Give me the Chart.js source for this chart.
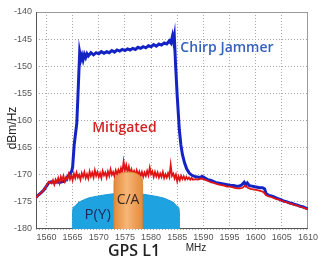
<!DOCTYPE html>
<html>
<head>
<meta charset="utf-8">
<script src="https://cdn.jsdelivr.net/npm/chart.js@4/dist/chart.umd.min.js"></script>
<style>
html,body{margin:0;padding:0;background:#fff;}
#wrap{width:321px;height:260px;position:relative;}
</style>
</head>
<body>
<div id="wrap"><canvas id="c"></canvas></div>
<script>
// ---- data ----
const xTicks = [1560,1565,1570,1575,1580,1585,1590,1595,1600,1605,1610];
const yTicks = [-180,-175,-170,-165,-160,-155,-150,-145,-140];

const jammerFreq = [1558,1558.5,1559,1559.5,1560,1560.5,1561,1561.5,1562,1562.5,1563,1563.5,1564,1564.5,1564.8,1565.0,1565.3,1565.8,1566.1,1566.35,1566.6,1566.8,1567.0,1567.25,1567.5,1567.75,1568,
1568.5,1569,1569.5,1570,1570.5,1571,1571.5,1572,1572.5,1573,1573.5,1574,1574.5,1575,1575.5,1576,1576.5,1577,1577.5,1578,1578.5,1579,1579.5,1580,1580.5,1581,1581.5,1582,1582.5,1583,1583.5,1583.8,1584.1,1584.3,1584.45,
1584.7,1585.0,1585.4,1585.7,1586.0,1586.4,1586.8,1587.3,1587.8,1588.3,1588.8,1589.3,1589.8,1590.3,1590.8,1591.3,1591.8,1592.3,1592.8,1593.3,1593.8,1594.3,1594.8,1595.3,1595.8,1596.3,1596.8,1597.3,1597.8,1598.1,1598.4,1598.8,1599.3,1599.8,1600.3,1600.8,1601.3,1601.7,1602.0,1602.5,1603,1603.5,1604,1604.5,1605,1605.5,1606,1606.5,1607,1607.5,1608,1608.5,1609,1609.5,1610];
const jammerLevel = [-174.2,-173.7,-173.3,-172.8,-172.1,-171.4,-171.3,-171.4,-171.3,-171.4,-171.3,-171.2,-170.4,-169.8,-169.4,-168.6,-164.5,-160.5,-153.5,-147.4,-148.7,-148.0,-148.8,-147.8,-148.4,-147.7,-148.1,
-147.5,-147.9,-147.5,-147.7,-147.3,-147.6,-147.3,-147.5,-147.1,-147.4,-147.0,-147.2,-146.9,-147.1,-146.8,-147.0,-146.7,-146.9,-146.5,-146.7,-146.4,-146.6,-146.2,-146.4,-146.0,-146.3,-145.9,-146.1,-145.7,-145.9,-145.3,-145.7,-144.4,-145.5,-144.6,
-150.0,-155.5,-161.7,-164.5,-166.3,-167.8,-168.9,-169.7,-170.1,-170.3,-170.4,-170.5,-170.3,-170.6,-170.9,-171.0,-171.2,-171.4,-171.5,-171.6,-171.7,-171.8,-171.9,-172.0,-172.0,-172.1,-172.1,-171.9,-171.4,-171.9,-171.5,-172.0,-172.1,-172.2,-172.3,-172.4,-172.4,-172.6,-173.5,-173.8,-173.9,-174.1,-174.3,-174.5,-174.7,-174.9,-175.0,-175.2,-175.3,-175.5,-175.6,-175.8,-175.9,-176.1,-176.3];

const mitigatedFreq = [1558,1558.5,1559,1559.5,1560,1560.5,1561,
1561.25,1561.5,1561.75,1562,1562.25,1562.5,1562.75,1563,1563.25,1563.5,1563.75,1564,1564.25,1564.5,1564.75,1565,1565.25,1565.5,1565.75,1566,1566.25,1566.5,1566.75,1567,1567.25,1567.5,1567.75,1568,1568.25,1568.5,1568.75,1569,1569.25,1569.5,1569.75,1570,
1570.25,1570.5,1570.75,1571,1571.25,1571.5,1571.75,1572,1572.25,1572.5,1572.75,1573,1573.25,1573.5,1573.75,1574,1574.25,1574.5,1574.75,1575,1575.25,1575.5,1575.75,1576,1576.25,1576.5,1576.75,1577,1577.25,1577.5,1577.75,1578,1578.25,1578.5,1578.75,1579,1579.25,1579.5,1579.75,1580,
1580.25,1580.5,1580.75,1581,1581.25,1581.5,1581.75,1582,1582.25,1582.5,1582.75,1583,1583.25,1583.5,1583.75,1584,1584.25,1584.5,1584.75,1585,1585.25,1585.5,1585.75,1586,1586.25,1586.5,1586.75,1587,1587.25,1587.5,1587.75,1588,
1588.5,1589,1589.5,1590,1590.5,1591,1591.5,1592,1592.5,1593,1593.5,1594,1594.5,1595,1595.5,1596,1596.5,1597,1597.5,1598,1598.5,1599,1599.5,1600,1600.5,1601,1601.5,1602,1602.5,1603,1603.5,1604,1604.5,1605,1605.5,1606,1606.5,1607,1607.5,1608,1608.5,1609,1609.5,1610];
const mitigatedLevel = [-174.2,-173.7,-173.3,-172.8,-172.0,-171.3,-171.6,
-171.0,-171.8,-170.9,-171.4,-170.6,-171.5,-170.4,-171.0,-170.2,-171.2,-170.5,-170.9,-169.9,-170.8,-170.1,-171.0,-169.8,-170.6,-169.6,-170.5,-170.0,-170.9,-169.7,-170.4,-169.5,-170.6,-169.9,-170.7,-169.4,-170.3,-169.6,-170.5,-169.2,-170.2,-169.5,-170.4,
-169.7,-170.6,-169.3,-170.1,-169.6,-170.5,-169.4,-170.2,-169.0,-170.0,-169.5,-170.3,-169.2,-169.9,-169.1,-169.8,-168.8,-169.6,-167.6,-169.2,-168.2,-169.5,-168.5,-169.7,-169.0,-169.9,-169.3,-170.1,-169.2,-170.0,-169.4,-170.3,-169.5,-170.4,-169.6,-170.2,-169.3,-170.1,-168.7,-169.9,
-169.4,-170.4,-169.5,-170.3,-169.6,-170.5,-169.8,-170.4,-169.5,-170.6,-169.9,-170.5,-169.7,-170.4,-168.2,-170.2,-169.8,-170.7,-170.0,-171.2,-170.3,-171.0,-170.2,-170.8,-170.3,-170.9,-170.4,-170.8,-170.5,-170.9,-170.6,-170.9,
-170.8,-170.9,-170.7,-170.8,-171.0,-171.2,-171.4,-171.5,-171.7,-171.8,-171.9,-172.0,-172.2,-172.2,-172.3,-172.4,-172.5,-172.5,-172.4,-172.0,-172.4,-172.6,-172.7,-172.8,-172.9,-173.0,-173.2,-173.8,-174.0,-174.1,-174.3,-174.5,-174.6,-174.8,-175.0,-175.1,-175.3,-175.4,-175.6,-175.7,-175.9,-176.0,-176.2,-176.4];

// GPS signal spectrum sketches
const pyFreq  = [1564.95,1565.0,1565.4,1566,1567,1568,1570,1572,1573.5,1575.2,1577,1578.5,1580.5,1582.4,1583.4,1584.4,1585.0,1585.4,1585.45];
const pyLevel = [-180,-176.6,-175.8,-175.2,-174.7,-174.3,-173.9,-173.6,-173.45,-173.4,-173.45,-173.6,-173.9,-174.3,-174.7,-175.2,-175.8,-176.6,-180];
const caFreq  = [1572.9,1572.92,1573.05,1573.35,1573.85,1574.65,1575.65,1576.65,1577.45,1577.95,1578.25,1578.38,1578.4];
const caLevel = [-180,-171.3,-170.7,-170.3,-169.9,-169.6,-169.5,-169.6,-169.9,-170.3,-170.7,-171.3,-180];

// text annotations
const noteText  = ['Chirp Jammer','Mitigated','P(Y)','C/A'];
const noteFreq  = [1585.6,1574.9,1569.8,1575.6];
const noteLevel = [-146.6,-161.4,-177.4,-174.6];

const pts = (xs, ys) => xs.map((x, i) => ({x: x, y: ys[i]}));

const frame = {
  id: 'frame',
  beforeDatasetsDraw(chart) {
    const {ctx, chartArea: a} = chart;
    ctx.save();
    ctx.strokeStyle = '#9a9a9a';
    ctx.lineWidth = 1;
    ctx.strokeRect(a.left + 0.5, a.top + 0.5, a.right - a.left - 1, a.bottom - a.top - 1);
    ctx.strokeStyle = '#555';
    ctx.beginPath();
    ctx.moveTo(a.left + 0.5, a.top);
    ctx.lineTo(a.left + 0.5, a.bottom - 0.5);
    ctx.lineTo(a.right, a.bottom - 0.5);
    ctx.stroke();
    ctx.restore();
  },
  afterDatasetsDraw(chart) {
    const {ctx, scales} = chart;
    ctx.save();
    ctx.textBaseline = 'middle';
    const styles = [
      {font: '600 14px "Open Sans"', color: '#3461bf', align: 'left'},
      {font: '600 14px "Open Sans"', color: '#d42222', align: 'center'},
      {font: '15px "Open Sans"', color: '#1b2a58', align: 'center'},
      {font: '14px "Open Sans"', color: '#3a2a1e', align: 'center'}
    ];
    noteText.forEach((t, i) => {
      ctx.font = styles[i].font;
      ctx.fillStyle = styles[i].color;
      ctx.textAlign = styles[i].align;
      ctx.fillText(t, scales.x.getPixelForValue(noteFreq[i]), scales.y.getPixelForValue(noteLevel[i]));
    });
    // axis titles
    ctx.fillStyle = '#222';
    ctx.textAlign = 'center';
    ctx.font = '600 16px "Open Sans"';
    ctx.fillText('GPS L1', 134, 251);
    ctx.font = '10px "Liberation Sans"';
    ctx.fillText('MHz', 196, 248);
    ctx.save();
    ctx.translate(13, 128);
    ctx.rotate(-Math.PI / 2);
    ctx.font = '12px "Liberation Sans"';
    ctx.fillText('dBm/Hz', 0, 0);
    ctx.restore();
    ctx.restore();
  }
};

const tickFont = {family: '"Liberation Sans Narrow", "Liberation Sans"', size: 9};

new Chart(document.getElementById('c'), {
  type: 'line',
  data: {
    datasets: [
      {
        label: 'C/A', data: pts(caFreq, caLevel), order: 0,
        borderColor: '#d9822e', borderWidth: 1, pointRadius: 0,
        cubicInterpolationMode: 'monotone', fill: 'start',
        backgroundColor: (c) => {
          const ch = c.chart; const a = ch.chartArea;
          if (!a) return '#f0a050';
          const x0 = ch.scales.x.getPixelForValue(caFreq[0]);
          const x1 = ch.scales.x.getPixelForValue(caFreq[caFreq.length - 1]);
          const g = ch.ctx.createLinearGradient(x0, 0, x1, 0);
          g.addColorStop(0, '#e48a38');
          g.addColorStop(0.45, '#f7b678');
          g.addColorStop(1, '#e48a38');
          return g;
        }
      },
      {
        label: 'P(Y)', data: pts(pyFreq, pyLevel), order: 1,
        borderColor: '#1c9ad8', borderWidth: 1, pointRadius: 0,
        cubicInterpolationMode: 'monotone', fill: 'start', backgroundColor: '#1fa2e0'
      },
      {
        label: 'Mitigated', data: pts(mitigatedFreq, mitigatedLevel), order: 2,
        borderColor: '#e01414', borderWidth: 1.8, pointRadius: 0, fill: false, tension: 0
      },
      {
        label: 'Chirp Jammer', data: pts(jammerFreq, jammerLevel), order: 3,
        borderColor: '#1424c4', borderWidth: 3, pointRadius: 0, fill: false, tension: 0
      }
    ]
  },
  options: {
    responsive: true, maintainAspectRatio: false, animation: false,
    layout: {padding: {left: 0, right: 8, top: 12, bottom: 0}},
    plugins: {legend: {display: false}, tooltip: {enabled: false}},
    scales: {
      x: {
        type: 'linear', min: 1558, max: 1610,
        afterBuildTicks: (s) => { s.ticks = xTicks.map(v => ({value: v})); },
        afterFit: (s) => { s.height = 31; },
        ticks: {font: tickFont, color: '#555', padding: 3, maxRotation: 0, autoSkip: false, callback: (v) => String(v)},
        grid: {color: '#a8a8a8', drawTicks: false, lineWidth: 1},
        border: {display: false, dash: [1, 2]}
      },
      y: {
        type: 'linear', min: -180, max: -140,
        afterBuildTicks: (s) => { s.ticks = yTicks.map(v => ({value: v})); },
        afterFit: (s) => { s.width = 36; },
        ticks: {font: tickFont, color: '#555', padding: 4, autoSkip: false, callback: (v) => String(v)},
        grid: {color: '#a8a8a8', drawTicks: false, lineWidth: 1},
        border: {display: false, dash: [1, 2]}
      }
    }
  },
  plugins: [frame]
});
</script>
</body>
</html>
